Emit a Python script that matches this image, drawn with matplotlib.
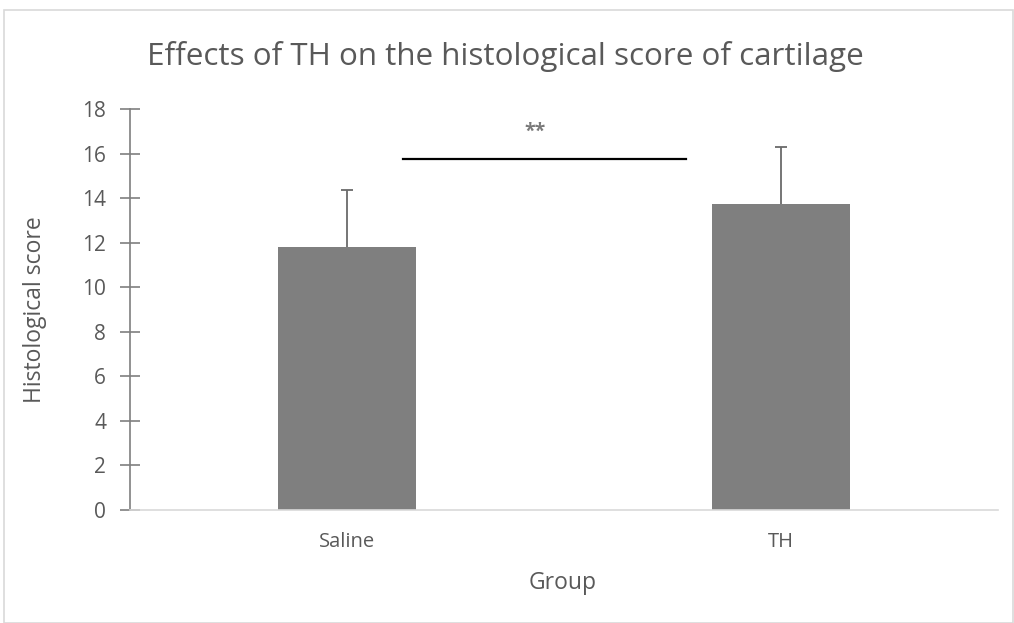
import matplotlib.pyplot as plt
import numpy as np
from matplotlib.patches import Rectangle

plt.rcParams['font.family'] = ['Open Sans', 'DejaVu Sans']

# data
groups = ['Saline', 'TH']
scores = [11.8, 13.72]
errors = [2.55, 2.6]
sig_label = '**'
sig_y = 15.75
title = 'Effects of TH on the histological score of cartilage'

txt = '#595959'

fig = plt.figure(figsize=(10.14, 6.23), dpi=100)
# chart area border
fig.patches.append(Rectangle((0.004, 0.0), 0.995, 0.984, transform=fig.transFigure,
                             fill=False, edgecolor='#d9d9d9', linewidth=1.2))
ax = fig.add_axes([0.128, 0.1814, 0.856, 0.6435])

x = np.arange(len(groups))
ax.bar(x, scores, width=0.317, color='#7f7f7f', zorder=2)
# upper error bars only, cap on top
ax.errorbar(x, scores, yerr=[np.zeros(len(errors)), errors], fmt='none',
            ecolor='#6a6a6a', elinewidth=1.3, capsize=0, zorder=3)
ax.plot(x, np.add(scores, errors), ls='none', marker='_', ms=8.6, mew=1.3,
        color='#6a6a6a', zorder=3)

# significance bar
ax.plot([0.13, 0.781], [sig_y, sig_y], color='black', linewidth=1.6, zorder=3)
ax.text(0.434, sig_y + 1.25, sig_label, ha='center', va='center', fontsize=14,
        color='#7a7a7a', fontweight='bold')

ax.set_xlim(-0.5, 1.5)
ax.set_ylim(0, 18)
ax.set_yticks(np.arange(0, 19, 2))
ax.set_xticks(x)
ax.set_xticklabels(groups)

for s in ['top', 'right']:
    ax.spines[s].set_visible(False)
ax.spines['left'].set_color('#7f7f7f')
ax.spines['left'].set_linewidth(1.2)
ax.spines['bottom'].set_color('#d9d9d9')
ax.spines['bottom'].set_linewidth(1.2)
ax.tick_params(axis='y', direction='inout', length=14, width=1.2, color='#7f7f7f',
               labelcolor=txt, labelsize=15, pad=10)
ax.tick_params(axis='x', length=0, labelcolor=txt, labelsize=14.5, pad=16)

ax.set_ylabel('Histological score', color=txt, fontsize=16.5, va='center')
ax.yaxis.set_label_coords(-0.109, 0.5)
ax.set_xlabel('Group', color=txt, fontsize=16.5, va='center')
ax.xaxis.set_label_coords(0.499, -0.182)
fig.text(0.498, 0.91, title, ha='center', va='center', fontsize=22.6, color=txt)

fig.savefig('out.png', dpi=100)
